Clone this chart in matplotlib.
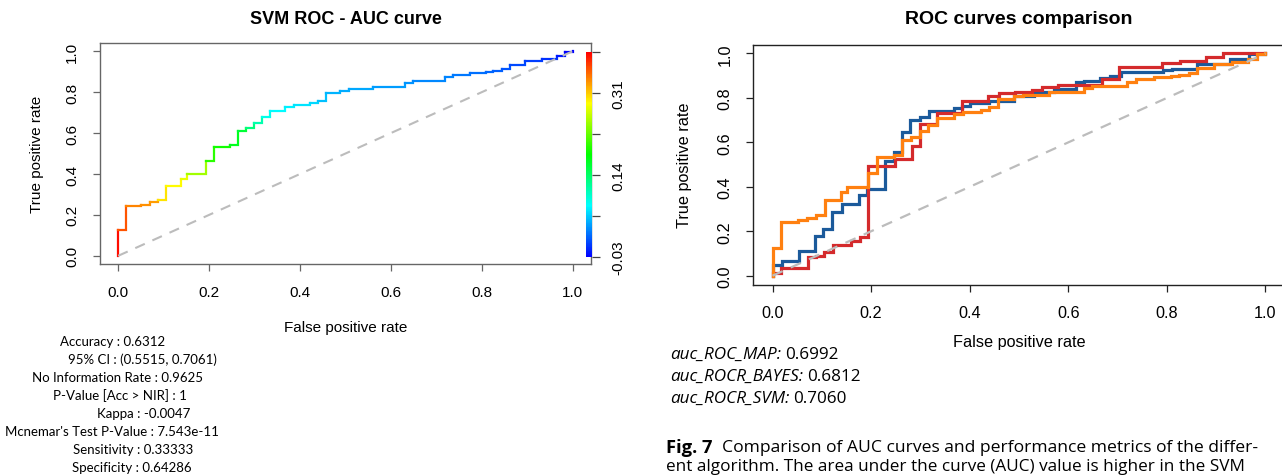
import numpy as np
import matplotlib
matplotlib.use("Agg")
import matplotlib.pyplot as plt
from matplotlib.collections import LineCollection
from matplotlib.colors import ListedColormap, Normalize, hsv_to_rgb
from matplotlib.cm import ScalarMappable

# ---------------- data ----------------
# SVM ROC curve (step corners: vertical rise at fpr to tpr), also used in comparison plot
svm_fpr = [0.0, 0.017, 0.051, 0.07, 0.088, 0.106, 0.139, 0.152, 0.193, 0.211, 0.246, 0.263,
           0.281, 0.299, 0.316, 0.334, 0.368, 0.387, 0.422, 0.44, 0.457, 0.489, 0.508, 0.561,
           0.631, 0.649, 0.719, 0.737, 0.773, 0.809, 0.825, 0.844, 0.861, 0.895, 0.932, 0.965,
           0.983, 1.0]
svm_tpr = [0.125, 0.242, 0.25, 0.261, 0.271, 0.339, 0.377, 0.399, 0.464, 0.534, 0.542, 0.612,
           0.623, 0.649, 0.679, 0.709, 0.726, 0.737, 0.747, 0.758, 0.795, 0.807, 0.815, 0.825,
           0.846, 0.854, 0.873, 0.883, 0.894, 0.899, 0.903, 0.911, 0.933, 0.951, 0.961, 0.977,
           0.997, 1.0]
svm_cutoff = [0.39, 0.36, 0.34, 0.335, 0.33, 0.30, 0.29, 0.28, 0.25, 0.20, 0.19, 0.17,
              0.16, 0.13, 0.11, 0.085, 0.075, 0.07, 0.065, 0.06, 0.05, 0.045, 0.042, 0.04,
              0.035, 0.032, 0.028, 0.025, 0.02, 0.017, 0.014, 0.01, 0.005, 0.0, -0.005, -0.01,
              -0.02, -0.03]

map_fpr = [0.0, 0.019, 0.053, 0.086, 0.103, 0.121, 0.14, 0.175, 0.192, 0.229, 0.246, 0.262,
           0.279, 0.30, 0.317, 0.368, 0.384, 0.401, 0.44, 0.49, 0.53, 0.57, 0.616, 0.631,
           0.665, 0.685, 0.706, 0.793, 0.811, 0.861, 0.929, 0.966, 1.0]
map_tpr = [0.048, 0.067, 0.112, 0.177, 0.21, 0.285, 0.322, 0.363, 0.39, 0.517, 0.555, 0.648,
           0.70, 0.712, 0.742, 0.753, 0.765, 0.777, 0.787, 0.81, 0.825, 0.84, 0.87, 0.877,
           0.889, 0.90, 0.915, 0.926, 0.932, 0.952, 0.977, 0.997, 1.0]

bayes_fpr = [0.0, 0.017, 0.071, 0.088, 0.105, 0.123, 0.16, 0.178, 0.194, 0.248, 0.283, 0.30,
             0.333, 0.384, 0.438, 0.459, 0.492, 0.526, 0.547, 0.58, 0.668, 0.702, 0.79, 0.826,
             0.88, 0.914, 1.0]
bayes_tpr = [0.01, 0.033, 0.082, 0.09, 0.108, 0.138, 0.155, 0.172, 0.495, 0.525, 0.582, 0.682,
             0.732, 0.787, 0.81, 0.82, 0.825, 0.836, 0.847, 0.859, 0.884, 0.937, 0.956, 0.967,
             0.982, 1.0, 1.0]

axis_ticks = [0.0, 0.2, 0.4, 0.6, 0.8, 1.0]
axis_ticklabels = ["0.0", "0.2", "0.4", "0.6", "0.8", "1.0"]
cbar_ticks = [-0.03, 0.055, 0.14, 0.225, 0.31, 0.395]
cbar_ticklabels = ["-0.03", "", "0.14", "", "0.31", ""]

metrics_lines = ["Accuracy : 0.6312", "95% CI : (0.5515, 0.7061)", "No Information Rate : 0.9625",
                 "P-Value [Acc > NIR] : 1", "Kappa : -0.0047",
                 "Mcnemar's Test P-Value : 7.543e-11", "Sensitivity : 0.33333",
                 "Specificity : 0.64286"]
auc_names = ["auc_ROC_MAP:", "auc_ROCR_BAYES:", "auc_ROCR_SVM:"]
auc_values = ["0.6992", "0.6812", "0.7060"]
caption_label = "Fig. 7"
caption_line1 = "Comparison of AUC curves and performance metrics of the differ-"
caption_line2 = "ent algorithm. The area under the curve (AUC) value is higher in the SVM"
series_colors = {"MAP": "#1b5a9b", "BAYES": "#d42a2c", "SVM": "#ff8010"}

# ---------------- layout helpers ----------------
W, H = 1282, 477
fig = plt.figure(figsize=(W / 100, H / 100), dpi=100)
plt.rcParams["font.family"] = ["Liberation Sans", "DejaVu Sans"]
SANS2 = ["Open Sans", "DejaVu Sans"]


def px_axes(x0, y0, x1, y1):
    return fig.add_axes([x0 / W, 1 - y1 / H, (x1 - x0) / W, (y1 - y0) / H])


def ftext(x, y, s, **kw):
    kw.setdefault("ha", "center")
    kw.setdefault("va", "center")
    return fig.text(x / W, 1 - y / H, s, **kw)


def right_px(t):
    fig.canvas.draw()
    return t.get_window_extent().x1


def step_xy(fpr, tpr):
    xs, ys = [0.0], [0.0]
    for x, y in zip(fpr, tpr):
        xs += [x, x]
        ys += [ys[-1], y]
    return xs, ys


def style_axes(ax, fs, frame_color, pad_px):
    ax.set_xlim(-0.04, 1.04)
    ax.set_ylim(-0.04, 1.04)
    ax.set_xticks(axis_ticks)
    ax.set_yticks(axis_ticks)
    ax.set_xticklabels(axis_ticklabels)
    ax.set_yticklabels(axis_ticklabels, rotation=90, va="center")
    ax.tick_params(direction="out", length=5, width=0.9, colors=frame_color,
                   labelcolor="black", labelsize=fs, pad=pad_px * 0.72)
    for sp in ax.spines.values():
        sp.set_color(frame_color)
        sp.set_linewidth(1.0)


# ---------------- left panel ----------------
hues = np.linspace(2 / 3, 0, 256)
rainbow = ListedColormap(hsv_to_rgb(np.stack([hues, np.ones(256), np.ones(256)], axis=-1)))
norm = Normalize(vmin=-0.03, vmax=0.395)

axL = px_axes(100, 44, 591, 265)
style_axes(axL, 11, "#666666", 14)
xp, yp = 0.0, 0.0
segs, cols = [], []
for x, y, c in zip(svm_fpr, svm_tpr, svm_cutoff):
    segs.append([(xp, yp), (x, yp), (x, y)])
    cols.append(rainbow(norm(c)))
    xp, yp = x, y
lc = LineCollection(segs, colors=cols, linewidths=1.6, capstyle="projecting", joinstyle="miter")
axL.add_collection(lc)
axL.plot([0, 1], [0, 1], ls=(0, (5, 4)), color="#bcbcbc", lw=1.5)

cax = px_axes(586, 53, 592, 258)
cb = fig.colorbar(ScalarMappable(norm=norm, cmap=rainbow), cax=cax, ticks=cbar_ticks)
cb.outline.set_visible(False)
cax.set_yticklabels(cbar_ticklabels, rotation=90, va="center")
cax.tick_params(length=6, width=0.9, colors="#444444", labelcolor="black", labelsize=11, pad=8)

ftext(345.5, 20, "SVM ROC - AUC curve", fontsize=13, fontweight="bold")
ftext(345.5, 328, "False positive rate", fontsize=11)
ftext(37, 154.5, "True positive rate", fontsize=11, rotation=90)

# ---------------- right panel ----------------
axR = px_axes(752.8, 45.6, 1285.2, 285.6)
style_axes(axR, 11.7, "#222222", 13)
for name, (fpr, tpr) in [("MAP", (map_fpr, map_tpr)), ("BAYES", (bayes_fpr, bayes_tpr)),
                         ("SVM", (svm_fpr, svm_tpr))]:
    xs, ys = step_xy(fpr, tpr)
    axR.plot(xs, ys, color=series_colors[name], lw=2.3, solid_joinstyle="miter")
axR.plot([0, 1], [0, 1], ls=(0, (5, 4)), color="#bcbcbc", lw=1.6)

ftext(1019, 20, "ROC curves comparison", fontsize=14, fontweight="bold")
ftext(1019, 343, "False positive rate", fontsize=11.7)
ftext(685, 165, "True positive rate", fontsize=11.7, rotation=90)

# ---------------- text blocks ----------------
metrics_x = [60, 68, 32, 53, 97, 5, 73, 72]
for i, (line, x) in enumerate(zip(metrics_lines, metrics_x)):
    ftext(x, 342 + 18 * i, line, ha="left", fontsize=9.5, family=["Lato", "DejaVu Sans"])

for i, (nm, val) in enumerate(zip(auc_names, auc_values)):
    t = ftext(670, 355 + 22 * i, nm, ha="left", fontsize=12.3, style="italic", family=SANS2)
    ftext(right_px(t) + 4, 355 + 22 * i, val, ha="left", fontsize=12.3, family=SANS2)

tfig = ftext(666, 448, caption_label, ha="left", fontsize=13.2, fontweight="bold", family=SANS2)
ftext(right_px(tfig) + 9, 448, caption_line1, ha="left", fontsize=12.6, family=SANS2)
ftext(666, 467, caption_line2, ha="left", fontsize=12.3, family=SANS2)

fig.savefig("out.png", dpi=100)
